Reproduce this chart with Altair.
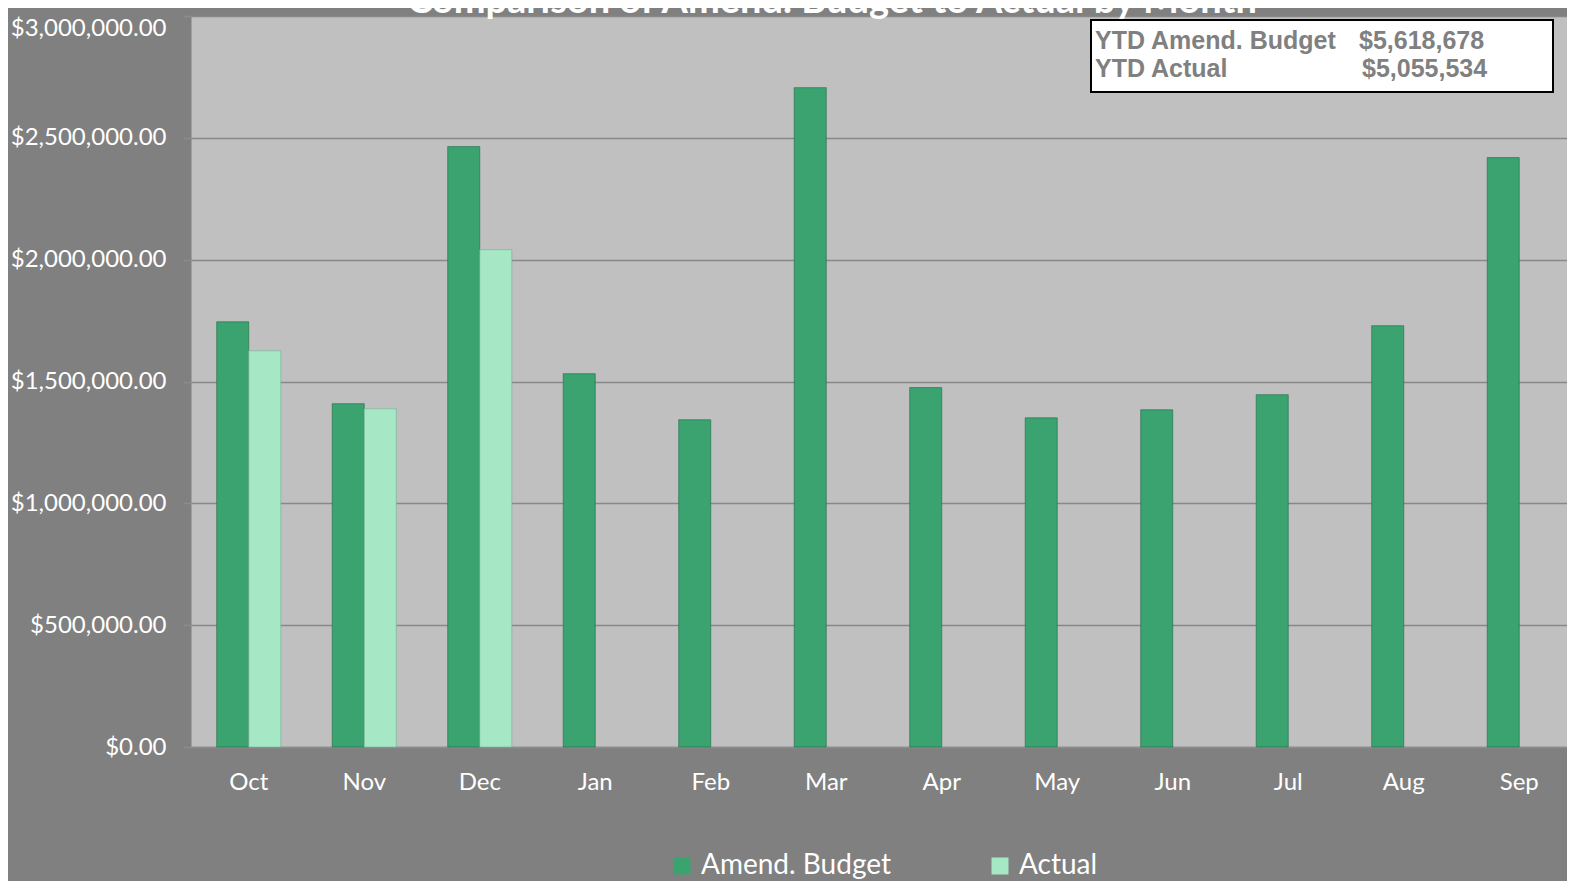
import altair as alt
import pandas as pd

months = ["Oct", "Nov", "Dec", "Jan", "Feb", "Mar", "Apr", "May", "Jun", "Jul", "Aug", "Sep"]
budget = [1745000, 1409000, 2464000, 1532000, 1343000, 2706000, 1475000, 1351000, 1384000, 1446000, 1729000, 2419000]
actual = [1626000, 1388000, 2041000, None, None, None, None, None, None, None, None, None]
series = ["Amend. Budget", "Actual"]
y_ticks = [0, 500000, 1000000, 1500000, 2000000, 2500000, 3000000]
title_text = "Comparison of Amend. Budget to Actual by Month"
ytd_labels = ["YTD Amend. Budget", "YTD Actual"]
ytd_values = ["$5,618,678", "$5,055,534"]

rows = []
for m, b, a in zip(months, budget, actual):
    rows.append({"Month": m, "Series": series[0], "Value": b})
    rows.append({"Month": m, "Series": series[1], "Value": a})
df = pd.DataFrame(rows)

W, H = 1386, 731
FONT = "Lato"

bars = alt.Chart(df).mark_bar(strokeWidth=1, strokeOpacity=0.6).encode(
    x=alt.X("Month:N", sort=months, title=None,
            scale=alt.Scale(paddingInner=0.445, paddingOuter=0.2225),
            axis=alt.Axis(labelAngle=0, labelColor="white", labelFont=FONT, labelFontSize=24,
                          labelPadding=23, ticks=False, domainColor="#8c8c8c", domainWidth=1.5)),
    xOffset=alt.XOffset("Series:N", sort=series, scale=alt.Scale(domain=series, paddingInner=0, paddingOuter=0)),
    y=alt.Y("Value:Q", title=None,
            scale=alt.Scale(domain=[0, 3000000], nice=False),
            axis=alt.Axis(values=y_ticks, format="$,.2f", labelColor="white", labelFont=FONT,
                          labelFontSize=24, labelPadding=17, tickSize=8, tickColor="#8c8c8c",
                          labelBaseline={"condition": {"test": "datum.value >= 3000000", "value": "top"},
                                         "value": "middle"},
                          tickWidth=1.5, gridColor="#888888", gridWidth=1.5, domain=False)),
    color=alt.Color("Series:N", sort=series,
                    scale=alt.Scale(domain=series, range=["#3aa370", "#a6e8c6"]),
                    legend=alt.Legend(title=None, orient="none", direction="horizontal",
                                      legendX=477, legendY=836, symbolType="square",
                                      symbolSize=289, symbolStrokeWidth=0, labelLimit=400,
                                      labelColor="white", labelFont=FONT, labelFontSize=28,
                                      labelOffset=5, columnPadding=95)),
    stroke=alt.Stroke("Series:N", sort=series,
                      scale=alt.Scale(domain=series, range=["#1f6b45", "#6fb08f"]), legend=None),
)

one = pd.DataFrame({"a": [0]})

title = alt.Chart(one).mark_text(font=FONT, fontSize=38, fontWeight="bold", color="white",
                                 align="center", baseline="alphabetic").encode(
    x=alt.value(641), y=alt.value(-3), text=alt.value(title_text))

box = alt.Chart(one).mark_rect(fill="white", stroke="black", strokeWidth=2).encode(
    x=alt.value(900), x2=alt.value(1362), y=alt.value(4), y2=alt.value(76))

def txt(s, x, y):
    return alt.Chart(one).mark_text(font="Liberation Sans", fontSize=25, fontWeight="bold",
                                    color="#808080", align="left", baseline="alphabetic").encode(
        x=alt.value(x), y=alt.value(y), text=alt.value(s))

t1 = txt(ytd_labels[0], 904, 33)
t2 = txt(ytd_labels[1], 904, 61)
v1 = txt(ytd_values[0], 1168, 33)
v2 = txt(ytd_values[1], 1171, 61)

chart = alt.layer(bars, title, box, t1, t2, v1, v2).properties(
    width=W, height=H,
    background="#808080",
    padding={"left": 183, "top": 8, "right": -10, "bottom": 134},
    autosize=alt.AutoSizeParams(type="none"),
).configure_view(fill="#c0c0c0", stroke="transparent")

chart.save("out.html", embed_options={"renderer": "svg", "actions": False})
